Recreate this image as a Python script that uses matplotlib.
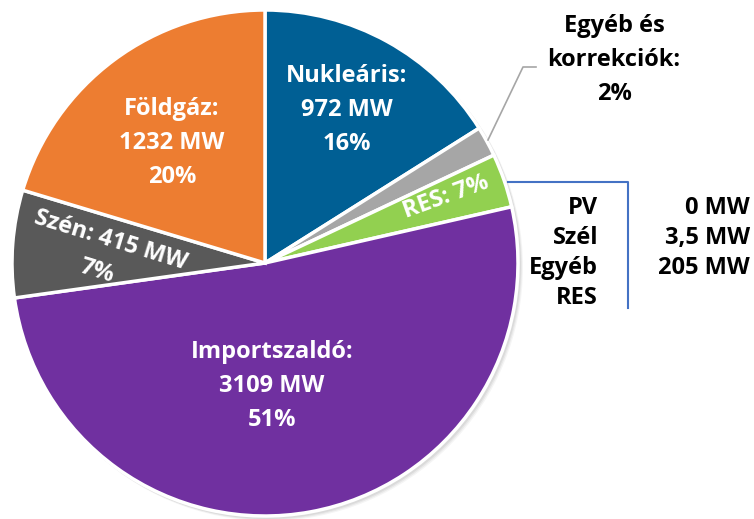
import numpy as np
import matplotlib.pyplot as plt
import matplotlib.patches as mpatches

plt.rcParams['font.family'] = ['Open Sans', 'DejaVu Sans']

# data (MW) -- order clockwise from 12 o'clock
names = ["Nukleáris", "Egyéb és korrekciók", "RES", "Importszaldó", "Szén", "Földgáz"]
values = [972, 117, 208.5, 3109, 415, 1232]
colors = ["#005F94", "#A6A6A6", "#92D050", "#7030A0", "#595959", "#ED7D31"]

res_names = ["PV", "Szél", "Egyéb\nRES"]
res_values = ["0 MW", "3,5 MW", "205 MW"]

W, H = 754, 519
fig = plt.figure(figsize=(W / 100, H / 100), dpi=100)
ax = fig.add_axes([0, 0, 1, 1])

cx, cy, R = 265, H - 263, 253

# soft shadow
for k, a in enumerate([0.06, 0.05, 0.04]):
    ax.add_patch(mpatches.Circle((cx + 2 + k, cy - 2 - k), R + 1, color='black',
                                 alpha=a, lw=0, zorder=0))

wedges, _ = ax.pie(values, colors=colors, startangle=90, counterclock=False,
                   center=(cx, cy), radius=R,
                   wedgeprops=dict(edgecolor='white', linewidth=2.5), frame=True)
ax.set_xlim(0, W)
ax.set_ylim(0, H)
ax.set_aspect('equal')
ax.axis('off')

fs = 17
def px(x, y):
    return x, H - y

txt = dict(fontsize=fs, fontweight='bold', ha='center', va='center', linespacing=1.55)
ax.text(*px(347, 110), "Nukleáris:\n972 MW\n16%", color='white', **txt)
ax.text(*px(172, 143), "Földgáz:\n1232 MW\n20%", color='white', **txt)
ax.text(*px(272, 386), "Importszaldó:\n3109 MW\n51%", color='white', **txt)
ax.text(*px(111, 240), "Szén: 415 MW", color='white', rotation=-17, **txt)
ax.text(*px(97, 271), "7%", color='white', rotation=-17, **txt)
ax.text(*px(446, 197), "RES: 7%", color='white', rotation=20, **txt)
ax.text(*px(614, 60), "Egyéb és\nkorrekciók:\n2%", color='black', **txt)

# leader line for Egyéb
ax.plot([px(488, 140)[0], px(523, 67)[0], px(536, 67)[0]],
        [px(488, 140)[1], px(523, 67)[1], px(536, 67)[1]],
        color='#A6A6A6', lw=1.2)

# RES breakdown bracket
ax.plot([508, 628, 628], [H - 182, H - 182, H - 308], color='#4472C4', lw=1.5)

row = 0
for n, v in zip(res_names, res_values):
    ax.text(750, H - (208 + 30 * row), v, fontsize=fs, fontweight='bold',
            ha='right', va='center')
    for line in n.split("\n"):
        ax.text(598, H - (208 + 30 * row), line, fontsize=fs, fontweight='bold',
                ha='right', va='center')
        row += 1

fig.savefig("out.png", dpi=100)
